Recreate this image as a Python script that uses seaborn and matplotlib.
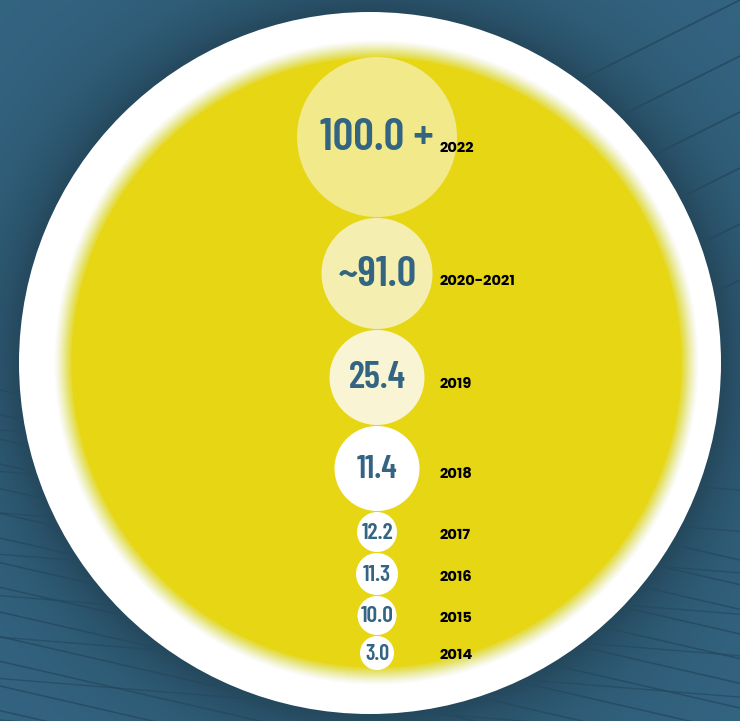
import numpy as np
import pandas as pd
import matplotlib.pyplot as plt
from matplotlib.patches import Circle
import seaborn as sns

# data (top to bottom)
years = ['2022', '2020-2021', '2019', '2018', '2017', '2016', '2015', '2014']
values = ['100.0+', '~91.0', '25.4', '11.4', '12.2', '11.3', '10.0', '3.0']

# bubble styling (pixels / colours), not data
bubble_r = [80, 55.5, 47.5, 42.5, 20, 21, 19.5, 17]
bubble_fill = ['#f2e98b', '#f5eeb1', '#f9f4d3', '#ffffff',
               '#ffffff', '#ffffff', '#ffffff', '#ffffff']
value_pt = [33, 31, 27, 24, 17, 17, 17, 16]

W, H = 740, 721
BLUE = np.array([51, 100, 129]) / 255
YELLOW = '#e6d614'
VALUE_COL = '#336482'
NUM_FONT = ['Barlow Condensed', 'Bebas Neue', 'DejaVu Sans']
YEAR_FONT = ['Poppins', 'Lato', 'DejaVu Sans']

sns.set_theme(style='white')
plt.rcParams['font.family'] = ['DejaVu Sans']

fig = plt.figure(figsize=(W / 100, H / 100), dpi=100)
ax = fig.add_axes([0, 0, 1, 1])

# background: blue with a soft dark shadow around the big white disc
cx0, cy0, R_white = 370, 363, 351
yy, xx = np.mgrid[0:H, 0:W]
d = np.hypot(xx - cx0, yy - cy0)
shade = np.exp(-np.clip(d - R_white, 0, None) / 45.0)
bg = BLUE[None, None, :] * (1 - 0.28 * shade[..., None])
ax.imshow(bg, extent=[0, W, H, 0], zorder=0, interpolation='bilinear')

# decorative streaks
line_col = '#25495f'
for y0 in np.linspace(390, 760, 16):
    ax.plot([0, W], [y0, y0 + 170], color=line_col, lw=1.1, alpha=0.8, zorder=1)
for y0 in np.linspace(430, 720, 8):
    ax.plot([0, W], [y0, y0 + 60], color=line_col, lw=1.0, alpha=0.7, zorder=1)
for y0 in np.linspace(20, 300, 6):
    ax.plot([480, W], [y0 + 110, y0 - 20], color=line_col, lw=1.2, alpha=0.9, zorder=1)

# white disc, then a yellow disc whose edge fades smoothly into the white
ax.add_patch(Circle((cx0, cy0), R_white, color='white', lw=0, zorder=2))
ycx, ycy, R_yel = 376.5, 362.5, 305
glow_w, step = 18.0, 0.5
ks = np.arange(step, glow_w + step, step)
target = 0.9 * np.clip(1 - ks / glow_w, 0, 1) ** 1.4
for j in range(len(ks) - 1, -1, -1):
    outer = target[j + 1] if j + 1 < len(ks) else 0.0
    a = 1 - (1 - target[j]) / (1 - outer)
    if a > 0:
        ax.add_patch(Circle((ycx, ycy), R_yel + ks[j], color=YELLOW,
                            alpha=a, lw=0, zorder=3))
ax.add_patch(Circle((ycx, ycy), R_yel, color=YELLOW, lw=0, zorder=4))

# stack the bubbles from the top of the yellow disc
top = 57
gap = 1
cy = []
for r in bubble_r:
    cy.append(top + r)
    top += 2 * r + gap
df = pd.DataFrame({'year': years, 'value': values,
                   'x': [377] * len(years), 'y': cy})

sizes = {y: (1.44 * r) ** 2 for y, r in zip(years, bubble_r)}
palette = dict(zip(years, bubble_fill))
sns.scatterplot(data=df, x='x', y='y', hue='year', size='year',
                sizes=sizes, palette=palette, linewidth=0, alpha=1,
                legend=False, ax=ax, zorder=5)

for i, row in df.iterrows():
    label = row['value'].replace('+', ' +')
    ax.text(row['x'], row['y'] + 1, label, ha='center', va='center',
            fontsize=value_pt[i], fontweight='semibold', color=VALUE_COL,
            family=NUM_FONT, zorder=6)
    ax.text(439, row['y'] + 0.14 * bubble_r[i] + 1, row['year'], ha='left',
            va='center', fontsize=10.5, fontweight='bold', color='black',
            family=YEAR_FONT, zorder=6)

ax.set_xlim(0, W)
ax.set_ylim(H, 0)
ax.set_aspect('auto')
ax.axis('off')

fig.savefig('out.png', dpi=100)
